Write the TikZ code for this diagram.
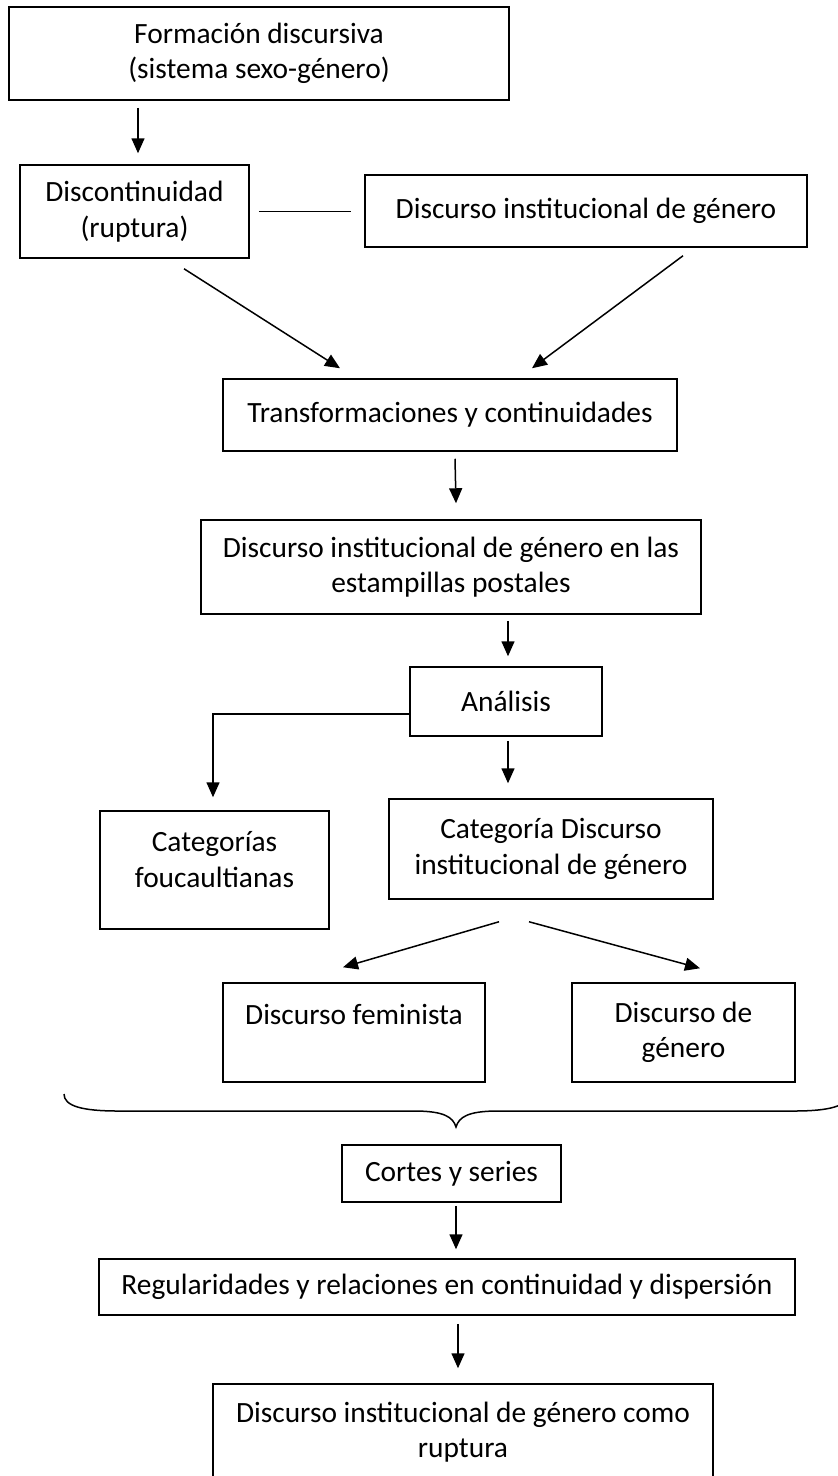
\documentclass[tikz,border=0pt]{standalone}
\usepackage{fontspec}
\setmainfont{Carlito}
\usetikzlibrary{arrows.meta}

\begin{document}
\begin{tikzpicture}[x=1pt,y=-1pt,
    box/.style={draw,line width=1.5pt,align=center,inner sep=0pt,
      font=\fontsize{29.4pt}{35.5pt}\selectfont},
    arr/.style={line width=1.5pt,-{Triangle[length=15pt,width=13pt]}},
    link/.style={line width=1.5pt}]
    \useasboundingbox (0,0) rectangle (838,1476);

    \node[box,minimum width=500pt,minimum height=93pt]  (fd)  at (259,53.5)   {Formación discursiva\\(sistema sexo-género)};
    \node[box,minimum width=229pt,minimum height=93pt]  (dc)  at (134.5,211.5) {Discontinuidad\\(ruptura)};
    \node[box,minimum width=442pt,minimum height=72pt]  (dig) at (586,211)    {Discurso institucional de género};
    \node[box,minimum width=454pt,minimum height=72pt]  (tc)  at (450,415)    {Transformaciones y continuidades};
    \node[box,minimum width=500pt,minimum height=94pt]  (dep) at (451,567)    {Discurso institucional de género en las\\estampillas postales};
    \node[box,minimum width=192pt,minimum height=69pt]  (an)  at (506,701.5)  {Análisis};
    \node[box,minimum width=229pt,minimum height=118pt] (cf)  at (214.5,870)  {Categorías\\foucaultianas\\[-14pt]\mbox{}};
    \node[box,minimum width=324pt,minimum height=100pt] (cdi) at (551,849)    {Categoría Discurso\\institucional de género};
    \node[box,minimum width=262pt,minimum height=99pt]  (df)  at (354,1032.5) {Discurso feminista\\\mbox{}};
    \node[box,minimum width=223pt,minimum height=99pt]  (dg)  at (683.5,1032.5) {Discurso de\\género};
    \node[box,minimum width=219pt,minimum height=57pt]  (cs)  at (451.5,1173.5) {Cortes y series};
    \node[box,minimum width=696pt,minimum height=56pt]  (rr)  at (447,1287)   {Regularidades y relaciones en continuidad y dispersión};
    \node[box,minimum width=500pt,minimum height=96pt]  (dir) at (463,1432)   {Discurso institucional de género como\\ruptura};

    % arrows
    \draw[arr] ([xshift=-121pt,yshift=-7pt]fd.south) -- ([xshift=3.5pt,yshift=11pt]dc.north);
    \draw[link] ([xshift=9pt]dc.east) -- ([xshift=-13pt]dc.east -| dig.west);
    \draw[arr] ([xshift=49.5pt,yshift=-10pt]dc.south) -- ([xshift=-110pt,yshift=10pt]tc.north);
    \draw[arr] ([xshift=97pt,yshift=-8pt]dig.south) -- ([xshift=82pt,yshift=10pt]tc.north);
    \draw[arr] ([xshift=5pt,yshift=-7pt]tc.south) -- ([xshift=5pt,yshift=16pt]dep.north);
    \draw[arr] ([xshift=57pt,yshift=-6pt]dep.south) -- ([xshift=2pt,yshift=10pt]an.north);
    \draw[arr] ([yshift=-12.5pt]an.west) -| ([xshift=-1.5pt,yshift=13pt]cf.north);
    \draw[arr] ([xshift=2pt,yshift=-4pt]an.south) -- ([xshift=-43pt,yshift=15pt]cdi.north);
    \draw[arr] ([xshift=-52pt,yshift=-22pt]cdi.south) -- ([xshift=-11pt,yshift=15pt]df.north);
    \draw[arr] ([xshift=-22pt,yshift=-22pt]cdi.south) -- ([xshift=16.5pt,yshift=14pt]dg.north);
    \draw[arr] ([xshift=4.5pt,yshift=-3pt]cs.south) -- ([xshift=9pt,yshift=9pt]rr.north);
    \draw[arr] ([xshift=11pt,yshift=-8pt]rr.south) -- ([xshift=-5pt,yshift=15pt]dir.north);

    % brace
    \draw[link] (64,1094) .. controls (64,1106) and (82,1111) .. (118,1111) -- (414,1111)
        .. controls (444,1111) and (453,1117) .. (456,1127)
        .. controls (459,1117) and (468,1111) .. (498,1111) -- (794,1111)
        .. controls (830,1111) and (848,1106) .. (848,1094);
\end{tikzpicture}
\end{document}
